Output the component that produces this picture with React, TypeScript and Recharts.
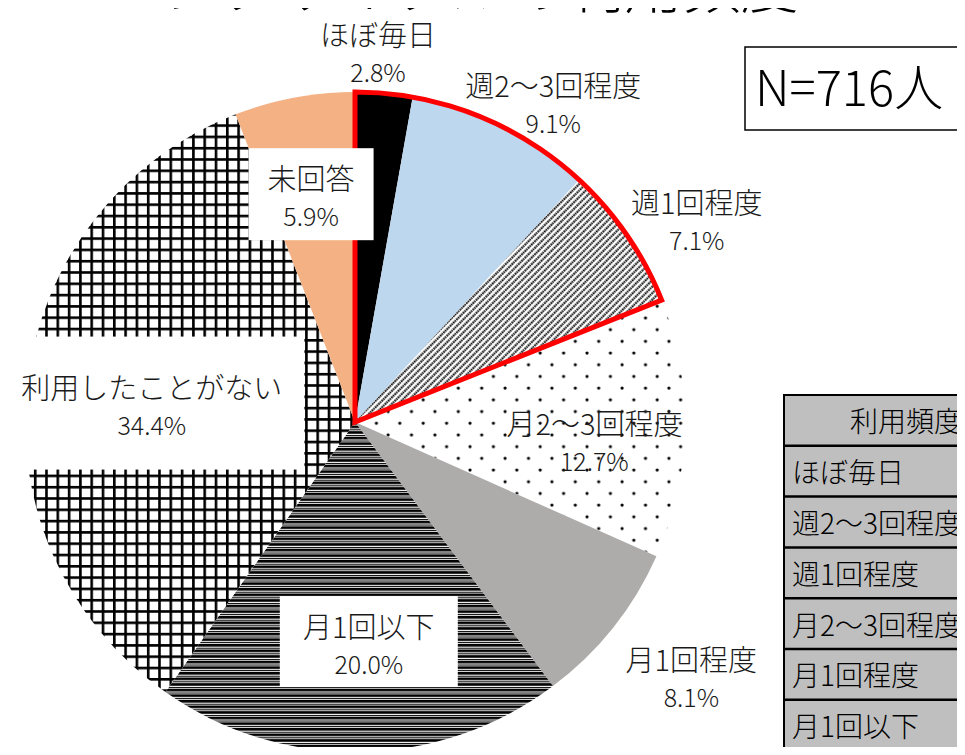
import { PieChart, Pie, Cell } from "recharts"

const title = "レンタサイクルの利用頻度"
const categories = [
  "ほぼ毎日",
  "週2〜3回程度",
  "週1回程度",
  "月2〜3回程度",
  "月1回程度",
  "月1回以下",
  "利用したことがない",
  "未回答",
]
const shares = [2.8, 9.1, 7.1, 12.7, 8.1, 20.0, 34.4, 5.9]
const fills = ["#000000", "#BDD7EE", "url(#diag)", "url(#dots)", "#AEABAB", "url(#hstripe)", "url(#grid)", "#F4B183"]
const highlightedCount = 3
const sampleSize = 716
const tableHeader = "利用頻度"

const data = categories.map((name, i) => ({ name, value: shares[i] }))
const highlightSum = shares.slice(0, highlightedCount).reduce((a, b) => a + b, 0)
const restSum = shares.slice(highlightedCount).reduce((a, b) => a + b, 0)
const outline = [
  { name: "highlight", value: highlightSum },
  { name: "rest", value: restSum },
]

// label distance from centre, angle tweak (deg, clockwise) and white box size
const labelLayout: { r: number; da: number; box?: [number, number] }[] = [
  { r: 373, da: -1.5 },
  { r: 377, da: 5.3 },
  { r: 398, da: 3.6 },
  { r: 240, da: 2.9 },
  { r: 421, da: -1.6 },
  { r: 220, da: -2.7, box: [178, 91] },
  { r: 204, da: -1.6, box: [305, 133] },
  { r: 232, da: -0.3, box: [125, 92] },
]

const FONT = '"Noto Sans CJK JP", "Noto Sans", sans-serif'

const renderLabel = (p: any) => {
  const { cx, cy, midAngle, index } = p
  const l = labelLayout[index]
  const a = ((90 - midAngle + l.da) * Math.PI) / 180
  const x = cx + l.r * Math.sin(a)
  const y = cy - l.r * Math.cos(a)
  return (
    <g key={`lbl-${index}`}>
      {l.box && <rect x={x - l.box[0] / 2} y={y - l.box[1] / 2} width={l.box[0]} height={l.box[1]} fill="#fff" />}
      <text x={x} y={y - 17} textAnchor="middle" dominantBaseline="central" fontSize={29} fontWeight={300} fill="#1a1a1a" fontFamily={FONT}>
        {categories[index]}
      </text>
      <text x={x} y={y + 21} textAnchor="middle" dominantBaseline="central" fontSize={25} fontWeight={300} fill="#1a1a1a" fontFamily={FONT}>
        {shares[index].toFixed(1)}%
      </text>
    </g>
  )
}

function Patterns() {
  return (
    <svg width={0} height={0} style={{ position: "absolute" }}>
      <defs>
        <pattern id="diag" width={4.6} height={4.6} patternUnits="userSpaceOnUse" patternTransform="rotate(-45)">
          <rect width={4.6} height={4.6} fill="#fff" />
          <line x1={0} y1={1.5} x2={4.6} y2={1.5} stroke="#000" strokeWidth={2.1} strokeDasharray="1.6 0.7" />
        </pattern>
        <pattern id="dots" width={23.4} height={23.4} patternUnits="userSpaceOnUse">
          <rect width={23.4} height={23.4} fill="#fff" />
          <circle cx={2} cy={2} r={1.6} fill="#000" />
          <circle cx={13.7} cy={13.7} r={1.6} fill="#000" />
        </pattern>
        <pattern id="hstripe" width={10} height={5.6} patternUnits="userSpaceOnUse">
          <rect width={10} height={5.6} fill="#fff" />
          <rect y={0} width={10} height={2.6} fill="#000" />
          <rect y={3.7} width={10} height={1.1} fill="#000" />
        </pattern>
        <pattern id="grid" width={11.3} height={11.3} patternUnits="userSpaceOnUse">
          <rect width={11.3} height={11.3} fill="#fff" />
          <rect x={0} width={2.6} height={11.3} fill="#000" />
          <rect y={0} width={11.3} height={2.6} fill="#000" />
        </pattern>
      </defs>
    </svg>
  )
}

function Overlay() {
  const rowH = 50.8
  const top = 395
  return (
    <svg width={965} height={755} style={{ position: "absolute", left: 0, top: 0, pointerEvents: "none" }}>
      <text x={452} y={8} textAnchor="middle" fontSize={58} fontWeight={300} fill="#000" fontFamily={FONT}>
        {title}
      </text>
      <rect x={745} y={47} width={260} height={83} fill="#fff" stroke="#000" strokeWidth={1.5} />
      <text x={755} y={106} fontSize={50} fontWeight={300} fill="#000" fontFamily={FONT} textLength={188} lengthAdjust="spacingAndGlyphs">
        N={sampleSize}人
      </text>
      <rect x={783} y={top} width={300} height={rowH * (categories.length + 1)} fill="#BFBFBF" />
      <line x1={783} y1={top} x2={965} y2={top} stroke="#000" strokeWidth={2} />
      <line x1={784} y1={top} x2={784} y2={755} stroke="#000" strokeWidth={2} />
      <text x={850} y={top + rowH / 2} dominantBaseline="central" fontSize={28} fontWeight={300} fill="#000" fontFamily={FONT}>
        {tableHeader}
      </text>
      {categories.map((c, i) => (
        <g key={c}>
          <line x1={783} y1={top + rowH * (i + 1)} x2={965} y2={top + rowH * (i + 1)} stroke="#000" strokeWidth={2.5} />
          <text x={792} y={top + rowH * (i + 1) + rowH / 2} dominantBaseline="central" fontSize={28} fontWeight={300} fill="#000" fontFamily={FONT}>
            {c}
          </text>
        </g>
      ))}
    </svg>
  )
}

export default function App() {
  return (
    <div style={{ position: "relative", width: 965, height: 755, margin: -8, overflow: "hidden", background: "#fff", fontFamily: FONT }}>
      <Patterns />
      <PieChart width={965} height={755} margin={{ top: 0, right: 0, bottom: 0, left: 0 }}>
        <Pie
          data={data}
          dataKey="value"
          cx={355}
          cy={422}
          outerRadius={330}
          startAngle={90}
          endAngle={-270}
          stroke="none"
          labelLine={false}
          label={renderLabel}
          isAnimationActive={false}
        >
          {data.map((d, i) => (
            <Cell key={d.name} fill={fills[i]} stroke="none" />
          ))}
        </Pie>
        <Pie
          data={outline}
          dataKey="value"
          cx={355}
          cy={422}
          outerRadius={330}
          startAngle={90}
          endAngle={-270}
          label={false}
          labelLine={false}
          isAnimationActive={false}
        >
          <Cell fill="none" stroke="#FF0000" strokeWidth={5} strokeLinejoin="miter" />
          <Cell fill="none" stroke="none" />
        </Pie>
      </PieChart>
      <Overlay />
    </div>
  )
}
